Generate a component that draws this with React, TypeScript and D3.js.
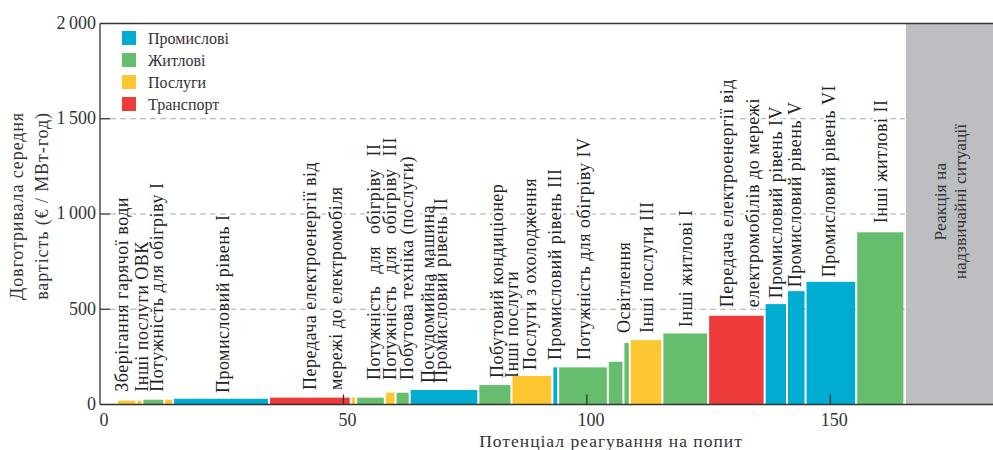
import React from "react";
import * as d3 from "d3";

const sectors = ["Промислові", "Житлові", "Послуги", "Транспорт"];
const sectorColors = ["#00acd0", "#66bd6e", "#fec630", "#ed3a3a"];

// demand response blocks, cheapest first
const blockSector = [
  "Послуги", "Послуги", "Житлові", "Послуги", "Промислові", "Транспорт",
  "Послуги", "Житлові", "Послуги", "Житлові", "Промислові", "Житлові",
  "Послуги", "Промислові", "Житлові", "Житлові", "Житлові", "Послуги",
  "Житлові", "Транспорт", "Промислові", "Промислові", "Промислові", "Житлові",
];
const blockPotential = [
  4.0, 1.2, 4.5, 1.8, 19.7, 16.8, 1.1, 5.9, 2.2, 2.9, 14.1, 6.8,
  8.4, 1.2, 10.2, 3.2, 1.3, 6.7, 9.4, 11.6, 4.6, 3.8, 10.4, 9.9,
];
const blockCost = [
  20, 20, 25, 25, 30, 36, 36, 36, 62, 62, 76, 102,
  150, 195, 195, 224, 323, 338, 373, 466, 527, 595, 644, 904,
];
const firstPotential = 3.5;
const emergencyFrom = 165.3;

const labelText = [
  ["Зберігання гарячої води"],
  ["Інші послуги ОВК"],
  ["Потужність для обігріву I"],
  ["Промисловий рівень I"],
  ["Передача електроенергії від", "мережі до електромобіля"],
  ["Потужність для обігріву II"],
  ["Потужність для обігріву III"],
  ["Побутова техніка (послуги)"],
  ["Посудомийна машина"],
  ["Промисловий рівень II"],
  ["Побутовий кондиціонер"],
  ["Інші послуги"],
  ["Послуги з охолодження"],
  ["Промисловий рівень III"],
  ["Потужність для обігріву IV"],
  ["Освітлення"],
  ["Інші послуги III"],
  ["Інші житлові I"],
  ["Передача електроенергії від", "електромобілів до мережі"],
  ["Промисловий рівень IV"],
  ["Промисловий рівень V"],
  ["Промисловий рівень VI"],
  ["Інші житлові II"],
];
// where each label sits: potential (x) and cost (y) of its foot
const labelAnchor = [
  4.8, 8.9, 12.0, 25.5, 43.4, 56.6, 59.9, 63.4, 67.6, 70.4, 81.8, 84.9,
  88.6, 93.8, 99.8, 108.0, 112.7, 120.7, 129.1, 139.2, 143.1, 150.0, 160.7,
];
const labelCost = [
  67, 67, 67, 60, 76, 128, 128, 128, 113, 113, 139, 139,
  181, 233, 233, 375, 375, 406, 511, 558, 616, 668, 951,
];

const yTicks = [0, 500, 1000, 1500, 2000];
const xTicks = [0, 50, 100, 150];

const W = 993;
const H = 450;
const font = "'Liberation Serif', 'DejaVu Serif', serif";
const ink = "#333";

export default function App() {
  const x = d3.scaleLinear().domain([0, 183.4]).range([100, 993]);
  const y = d3.scaleLinear().domain([0, 2000]).range([404.5, 23.5]);
  const color = d3.scaleOrdinal<string, string>().domain(sectors).range(sectorColors);

  const ends = Array.from(d3.cumsum(blockPotential), (c) => c + firstPotential);
  const blocks = blockPotential.map((w, i) => ({
    x0: ends[i] - w,
    x1: ends[i],
    cost: blockCost[i],
    sector: blockSector[i],
  }));

  const spaced = new Set([5, 6]);
  const lineGap = 26;

  const labelNodes = (halo: boolean) =>
    labelText.map((lines, i) => (
      <g
        key={i}
        transform={`translate(${x(labelAnchor[i])},${y(labelCost[i])}) rotate(-90)`}
      >
        {lines.map((t, j) => (
          <text
            key={j}
            x={0}
            y={j * lineGap}
            dy="0.25em"
            fontSize={18}
            letterSpacing={0.5}
            fill={halo ? "white" : "#222"}
            stroke={halo ? "white" : "none"}
            strokeWidth={halo ? 4 : 0}
            strokeLinejoin="round"
            style={spaced.has(i) ? { wordSpacing: "7px" } : undefined}
          >
            {t}
          </text>
        ))}
      </g>
    ));

  return (
    <svg
      width={W}
      height={H}
      style={{ position: "absolute", left: 0, top: 0, display: "block", background: "white" }}
      fontFamily={font}
    >
      {/* grid */}
      {yTicks.filter((t) => t > 0 && t < 2000).map((t) => (
        <g key={t}>
          <line x1={x(0) + 10} x2={x(emergencyFrom)} y1={y(t)} y2={y(t)} stroke="#aaa" strokeWidth={1.2} strokeDasharray="6 4" />
          <line x1={x(0)} x2={x(0) + 10} y1={y(t)} y2={y(t)} stroke={ink} strokeWidth={1.3} />
        </g>
      ))}

      {/* emergency response region */}
      <rect x={x(emergencyFrom) + 1} y={y(2000)} width={W - x(emergencyFrom) - 1} height={y(0) - y(2000)} fill="#bdbec1" />
      <g transform={`translate(${x(emergencyFrom) + (W - x(emergencyFrom)) / 2},${y(1065)}) rotate(-90)`}>
        <text textAnchor="middle" fontSize={17.5} fill={ink} y={-9} dy="0.35em">Реакція на</text>
        <text textAnchor="middle" fontSize={17.5} fill={ink} y={11} dy="0.35em">надзвичайні ситуації</text>
      </g>

      {/* labels */}
      <g>{labelNodes(true)}</g>
      <g>{labelNodes(false)}</g>

      {/* blocks */}
      {blocks.map((b, i) => (
        <rect
          key={i}
          x={x(b.x0) + 1}
          width={Math.max(1, x(b.x1) - x(b.x0) - 2)}
          y={y(b.cost)}
          height={y(0) - y(b.cost)}
          fill={color(b.sector)}
        />
      ))}

      {/* x ticks inside */}
      {xTicks.filter((t) => t > 0).map((t) => (
        <line key={t} x1={x(t)} x2={x(t)} y1={y(0)} y2={y(0) - 10} stroke={ink} strokeWidth={1.3} />
      ))}

      {/* frame */}
      <line x1={x(0)} x2={W} y1={y(2000)} y2={y(2000)} stroke={ink} strokeWidth={1.3} />
      <line x1={x(0)} x2={W} y1={y(0)} y2={y(0)} stroke={ink} strokeWidth={1.3} />
      <line x1={x(0)} x2={x(0)} y1={y(2000)} y2={y(0)} stroke={ink} strokeWidth={1.3} />

      {/* y tick labels */}
      {yTicks.map((t) => (
        <text key={t} x={x(0) - 4} y={y(t)} dy="0.3em" textAnchor="end" fontSize={18} fill={ink}>
          {t >= 1000 ? d3.format(",")(t).replace(",", "\u2009") : t}
        </text>
      ))}

      {/* x tick labels */}
      {xTicks.map((t) => (
        <text key={t} x={x(t) + 4} y={426} textAnchor="middle" fontSize={18} fill={ink}>
          {t}
        </text>
      ))}

      {/* axis titles */}
      <text x={611} y={447} textAnchor="middle" fontSize={17.5} letterSpacing={1} fill={ink}>
        Потенціал реагування на попит
      </text>
      <g transform="translate(0,206) rotate(-90)">
        <text x={0} y={23} textAnchor="middle" fontSize={18} letterSpacing={0.9} fill={ink}>Довготривала середня</text>
        <text x={0} y={48} textAnchor="middle" fontSize={18} letterSpacing={0.9} fill={ink}>вартість (€ / МВт-год)</text>
      </g>

      {/* legend */}
      {sectors.map((s, i) => (
        <g key={s} transform={`translate(122,${31 + i * 22})`}>
          <rect width={14} height={14} fill={color(s)} />
          <text x={26} y={7} dy="0.35em" fontSize={16} fill={ink}>
            {s}
          </text>
        </g>
      ))}
    </svg>
  );
}
